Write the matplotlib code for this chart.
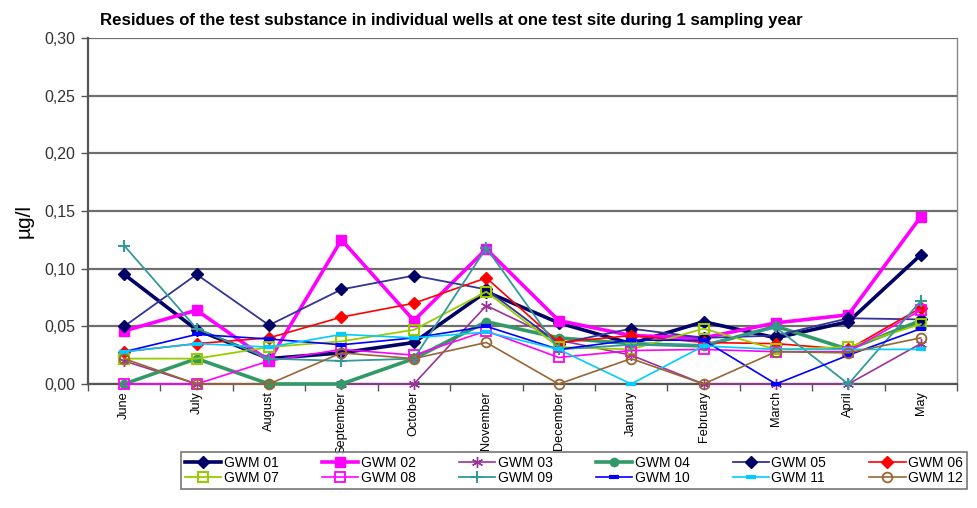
import matplotlib
matplotlib.use("Agg")
import matplotlib.pyplot as plt
from matplotlib.ticker import FixedLocator, FuncFormatter

plt.rcParams['font.family'] = ['Liberation Sans', 'DejaVu Sans']

months = ["June", "July", "August", "September", "October", "November",
          "December", "January", "February", "March", "April", "May"]

gwm01 = [0.095, 0.047, 0.022, 0.027, 0.036, 0.080, 0.053, 0.035, 0.054, 0.040, 0.054, 0.112]
gwm02 = [0.046, 0.064, 0.020, 0.125, 0.055, 0.117, 0.055, 0.042, 0.040, 0.053, 0.060, 0.145]
gwm03 = [0.020, 0.000, 0.000, 0.000, 0.000, 0.068, 0.038, 0.025, 0.000, 0.000, 0.000, 0.035]
gwm04 = [0.000, 0.022, 0.000, 0.000, 0.022, 0.054, 0.040, 0.035, 0.033, 0.050, 0.030, 0.055]
gwm05 = [0.050, 0.095, 0.051, 0.082, 0.094, 0.082, 0.035, 0.048, 0.040, 0.042, 0.057, 0.056]
gwm06 = [0.028, 0.035, 0.040, 0.058, 0.070, 0.092, 0.036, 0.042, 0.036, 0.035, 0.030, 0.066]
gwm07 = [0.022, 0.022, 0.032, 0.037, 0.047, 0.080, 0.032, 0.030, 0.048, 0.030, 0.032, 0.052]
gwm08 = [0.000, 0.000, 0.020, 0.030, 0.025, 0.046, 0.023, 0.029, 0.030, 0.028, 0.028, 0.064]
gwm09 = [0.120, 0.048, 0.022, 0.020, 0.022, 0.118, 0.030, 0.034, 0.034, 0.049, 0.000, 0.072]
gwm10 = [0.028, 0.043, 0.039, 0.034, 0.040, 0.050, 0.030, 0.038, 0.038, 0.000, 0.025, 0.048]
gwm11 = [0.028, 0.035, 0.032, 0.043, 0.040, 0.045, 0.030, 0.000, 0.033, 0.030, 0.030, 0.030]
gwm12 = [0.022, 0.000, 0.000, 0.027, 0.022, 0.036, 0.000, 0.022, 0.000, 0.028, 0.027, 0.040]

series_names = ["GWM 01", "GWM 02", "GWM 03", "GWM 04", "GWM 05", "GWM 06",
                "GWM 07", "GWM 08", "GWM 09", "GWM 10", "GWM 11", "GWM 12"]
series_values = [gwm01, gwm02, gwm03, gwm04, gwm05, gwm06,
                 gwm07, gwm08, gwm09, gwm10, gwm11, gwm12]

styles = [
    dict(color="#000066", lw=2.6, marker="D", ms=6, mfc="#000066", mec="#000066"),
    dict(color="#ff00ff", lw=2.6, marker="s", ms=7, mfc="#ff00ff", mec="#ff00ff"),
    dict(color="#993399", lw=1.2, marker=(6, 2, 0), ms=8, mfc="none", mec="#993399"),
    dict(color="#339966", lw=2.6, marker="o", ms=6, mfc="#339966", mec="#339966"),
    dict(color="#333399", lw=1.3, marker="D", ms=6, mfc="#000066", mec="#000066"),
    dict(color="#ff0000", lw=1.2, marker="D", ms=6, mfc="#ff0000", mec="#ff0000"),
    dict(color="#99cc00", lw=1.3, marker="s", ms=7, mfc="none", mec="#99cc00", mew=1.5),
    dict(color="#ff00ff", lw=1.2, marker="s", ms=7, mfc="none", mec="#ff00ff", mew=1.3),
    dict(color="#339999", lw=1.3, marker="+", ms=9, mfc="none", mec="#339999", mew=1.5),
    dict(color="#0000ff", lw=1.2, marker="_", ms=7, mfc="#0000ff", mec="#0000ff", mew=3),
    dict(color="#00ccff", lw=1.2, marker="_", ms=7, mfc="#00ccff", mec="#00ccff", mew=3),
    dict(color="#996633", lw=1.2, marker="o", ms=7, mfc="none", mec="#996633", mew=1.3),
]

fig = plt.figure(figsize=(9.77, 5.08), dpi=100)
ax = fig.add_axes([88/977, 1-384/508, (957-88)/977, (384-38)/508])

x = list(range(len(months)))
handles = []
for name, vals, st in zip(series_names, series_values, styles):
    h, = ax.plot(x, vals, label=name, clip_on=False, zorder=3, **st)
    handles.append(h)

ax.set_xlim(-0.5, len(months) - 0.5)
ax.set_ylim(0, 0.30)
ax.yaxis.set_major_locator(FixedLocator([0, 0.05, 0.10, 0.15, 0.20, 0.25, 0.30]))
ax.yaxis.set_major_formatter(FuncFormatter(lambda v, p: f"{v:.2f}".replace(".", ",")))
ax.grid(axis="y", color="#6e6e6e", lw=1.6, zorder=0)
ax.set_axisbelow(True)

ax.set_xticks(x)
ax.set_xticklabels(months, rotation=90, fontsize=9.2, va="top")
ax.tick_params(axis="x", which="major", length=0, pad=5)
ax.set_xticks([i + 0.5 for i in range(-1, len(months))], minor=True)
ax.tick_params(axis="x", which="minor", length=5, width=1.0, color="#555555", direction="out")
ax.tick_params(axis="y", length=5, width=1.0, color="#555555", labelsize=11.5,
               labelcolor="#333333", pad=4)

ax.spines["top"].set_visible(False)
ax.spines["right"].set_color("#888888")
ax.spines["right"].set_linewidth(1.0)
ax.spines["left"].set_color("#555555")
ax.spines["left"].set_linewidth(1.6)
ax.spines["bottom"].set_color("#555555")
ax.spines["bottom"].set_linewidth(1.6)

ax.set_ylabel("µg/l", fontsize=15)
ax.yaxis.set_label_coords(-0.062, 0.47)

fig.text(100/977, 1-20/508, "Residues of the test substance in individual wells at one test site during 1 sampling year",
         fontsize=12.1, fontweight="bold", ha="left", va="center")

order = [0, 6, 1, 7, 2, 8, 3, 9, 4, 10, 5, 11]
leg = fig.legend([handles[i] for i in order], [series_names[i] for i in order],
                 ncol=6, loc="upper left", bbox_to_anchor=(181/977, 1-452/508),
                 fontsize=10, frameon=True, fancybox=False, handlelength=2.6,
                 handletextpad=0.2, columnspacing=3.1, borderpad=0.3,
                 labelspacing=0.05, borderaxespad=0)
leg.get_frame().set_edgecolor("#555555")
leg.get_frame().set_linewidth(1.2)

fig.savefig("out.png", dpi=100)
